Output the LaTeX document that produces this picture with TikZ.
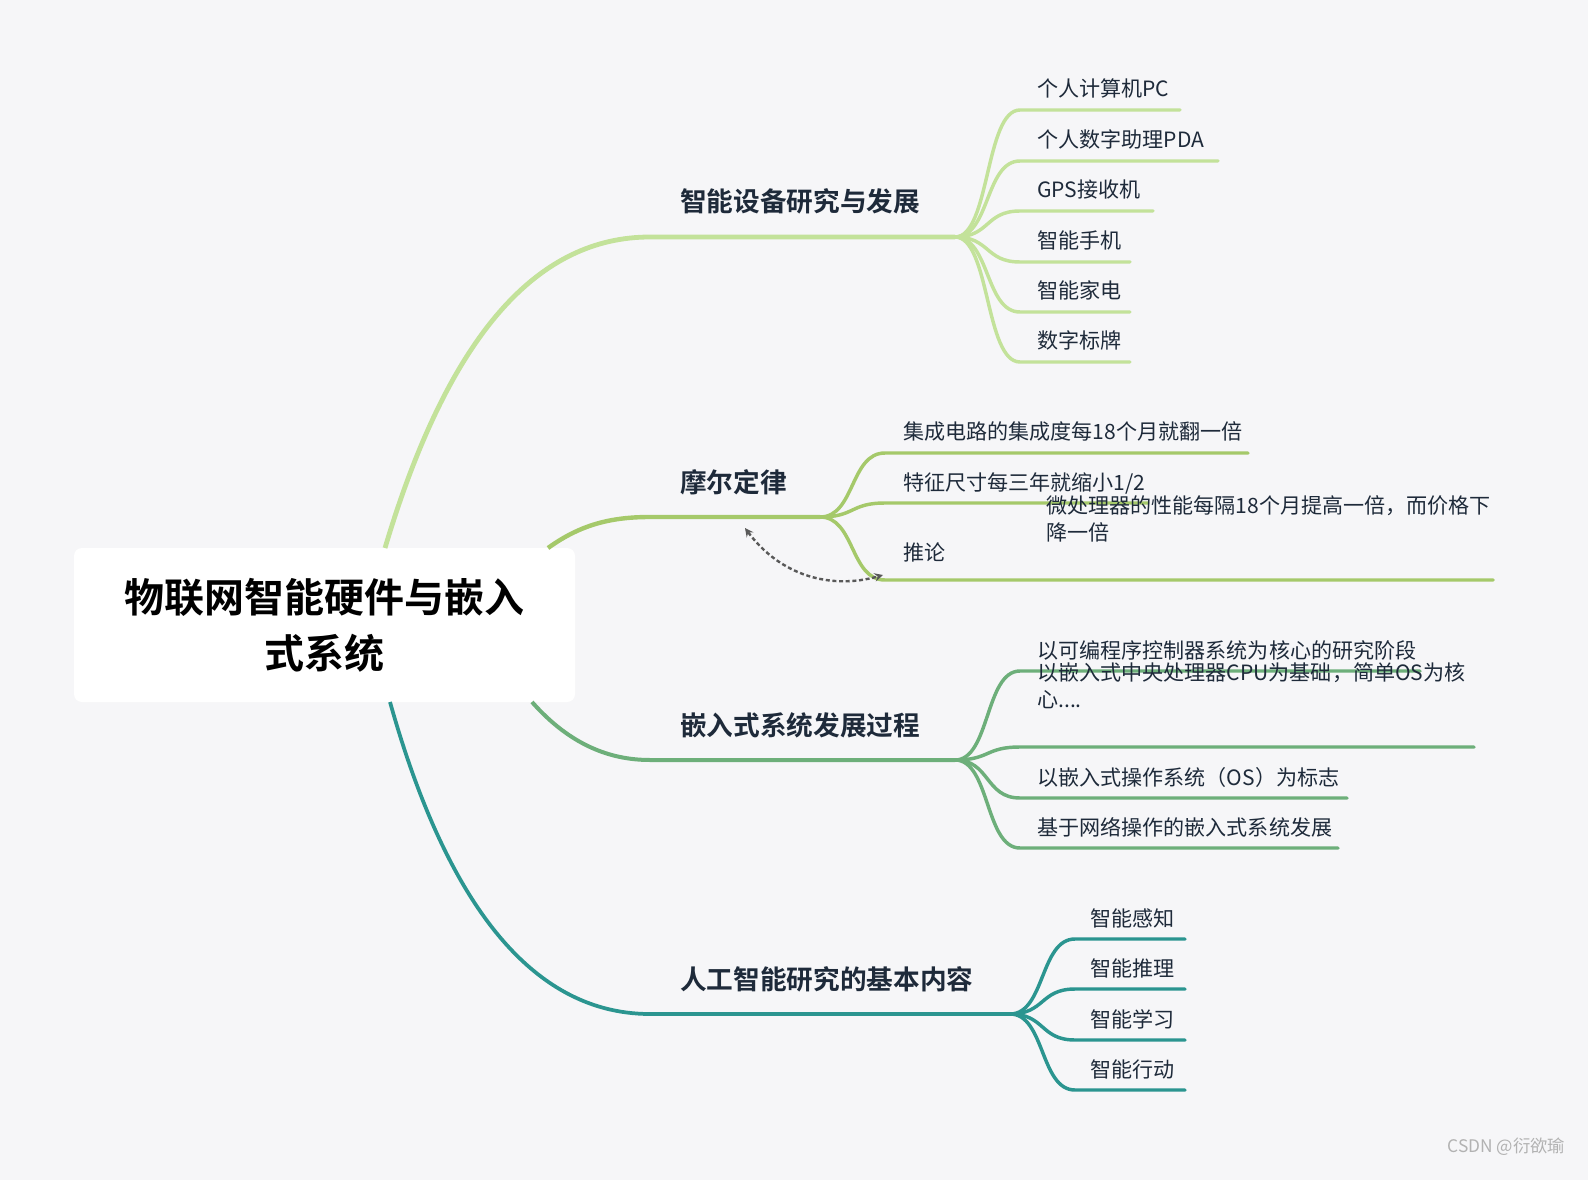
\documentclass[tikz,border=0pt]{standalone}
\usepackage{fontspec}
\setmainfont{Noto Sans CJK SC}[BoldFont={Noto Sans CJK SC Bold}]
\usetikzlibrary{positioning}
\definecolor{bgc}{HTML}{F6F6F8}
\definecolor{cA}{HTML}{C3E29A}
\definecolor{cB}{HTML}{A5C96A}
\definecolor{cC}{HTML}{6DAF7A}
\definecolor{cD}{HTML}{2B9590}
\definecolor{txt}{HTML}{1E2A3A}
\tikzset{
  leaf/.style={anchor=base west, font=\fontsize{15.8}{20}\selectfont, text=txt, inner sep=0pt},
  topic/.style={anchor=base west, font=\bfseries\fontsize{20}{24}\selectfont, text=txt, inner sep=0pt},
  twig/.style={line width=2.6pt, line cap=round},
}
\begin{document}
\begin{tikzpicture}[x=0.75pt,y=-0.75pt]
  % background
  \fill[bgc] (0,0) rectangle (1588,1180);
  \useasboundingbox (0,0) rectangle (1588,1180);

  % root
  \node[fill=white, rounded corners=6pt, minimum width=375.75pt, minimum height=115.5pt,
        align=center, font=\bfseries\fontsize{30}{42}\selectfont] (root) at (324.5,625)
        {物联网智能硬件与嵌入\\式系统};

  % trunks
  \coordinate (a0) at (650,237);  \coordinate (a1) at (955,237);
  \coordinate (b0) at (650,517);  \coordinate (b1) at (820,517);
  \coordinate (c0) at (650,760);  \coordinate (c1) at (955,760);
  \coordinate (d0) at (650,1014); \coordinate (d1) at (1010,1014);
  \draw[cA, line width=3.6pt] (385,548) .. controls (450,330) and (540,237) .. (a0) -- (a1);
  \draw[cB, line width=3.3pt] (548,548) .. controls (580,525) and (610,517) .. (b0) -- (b1);
  \draw[cC, line width=3pt] (532,702) .. controls (570,745) and (610,760) .. (c0) -- (c1);
  \draw[cD, line width=2.8pt] (390,702) .. controls (440,880) and (520,1014) .. (d0) -- (d1);

  % topics
  \node[topic] (ta) at (680,212) {智能设备研究与发展};
  \node[topic] (tb) at (680,492) {摩尔定律};
  \node[topic] (tc) at (680,735) {嵌入式系统发展过程};
  \node[topic] (td) at (680,989) {人工智能研究的基本内容};

  % branch 1 leaves
  \foreach \y/\e/\t [count=\i] in {110/1180/个人计算机PC, 161/1218/个人数字助理PDA,
      211/1153/GPS接收机, 262/1130/智能手机, 312/1130/智能家电, 362/1130/数字标牌} {
    \draw[cA, twig] (a1) .. controls (990,237) and (985,\y) .. (1020,\y) -- (\e,\y);
    \node[leaf] (la\i) at (1037,\y-13) {\t};
  }

  % branch 2 leaves
  \foreach \y/\e/\o/\t [count=\i] in {453/1248/13/集成电路的集成度每18个月就翻一倍,
      503/1148/13/{特征尺寸每三年就缩小1/2}, 580/1493/20/推论} {
    \draw[cB, twig] (b1) .. controls (855,517) and (850,\y) .. (885,\y) -- (\e,\y);
    \node[leaf] (lb\i) at (903,\y-\o) {\t};
  }
  \node[leaf, align=left] (lb4) at (1046,540)
    {微处理器的性能每隔18个月提高一倍，而价格下\\降一倍};
  \coordinate (ptr) at (745,528);
  \draw[densely dashed, line width=1.8pt, gray!70!black, <->, >=stealth]
    (ptr) .. controls (780,575) and (830,590) .. (883,575);

  % branch 3 leaves
  \foreach \y/\e/\t [count=\i] in {671/1420/以可编程序控制器系统为核心的研究阶段,
      798/1347/以嵌入式操作系统（OS）为标志, 848/1338/基于网络操作的嵌入式系统发展} {
    \draw[cC, twig] (c1) .. controls (990,760) and (985,\y) .. (1020,\y) -- (\e,\y);
    \node[leaf] (lc\i) at (1037,\y-13) {\t};
  }
  \draw[cC, twig] (c1) .. controls (990,760) and (985,747) .. (1020,747) -- (1474,747);
  \node[leaf, align=left] (lc4) at (1037,707)
    {以嵌入式中央处理器CPU为基础，简单OS为核\\心....};

  % branch 4 leaves
  \foreach \y/\t [count=\i] in {939/智能感知, 989/智能推理, 1040/智能学习, 1090/智能行动} {
    \draw[cD, twig] (d1) .. controls (1045,1014) and (1040,\y) .. (1075,\y) -- (1185,\y);
    \node[leaf] (ld\i) at (1090,\y-13) {\t};
  }

  % watermark
  \node[anchor=base east, font=\fontsize{13}{15}\selectfont, text=gray!60] (wm) at (1570,1152) {CSDN @衍欲瑜};
\end{tikzpicture}
\end{document}
